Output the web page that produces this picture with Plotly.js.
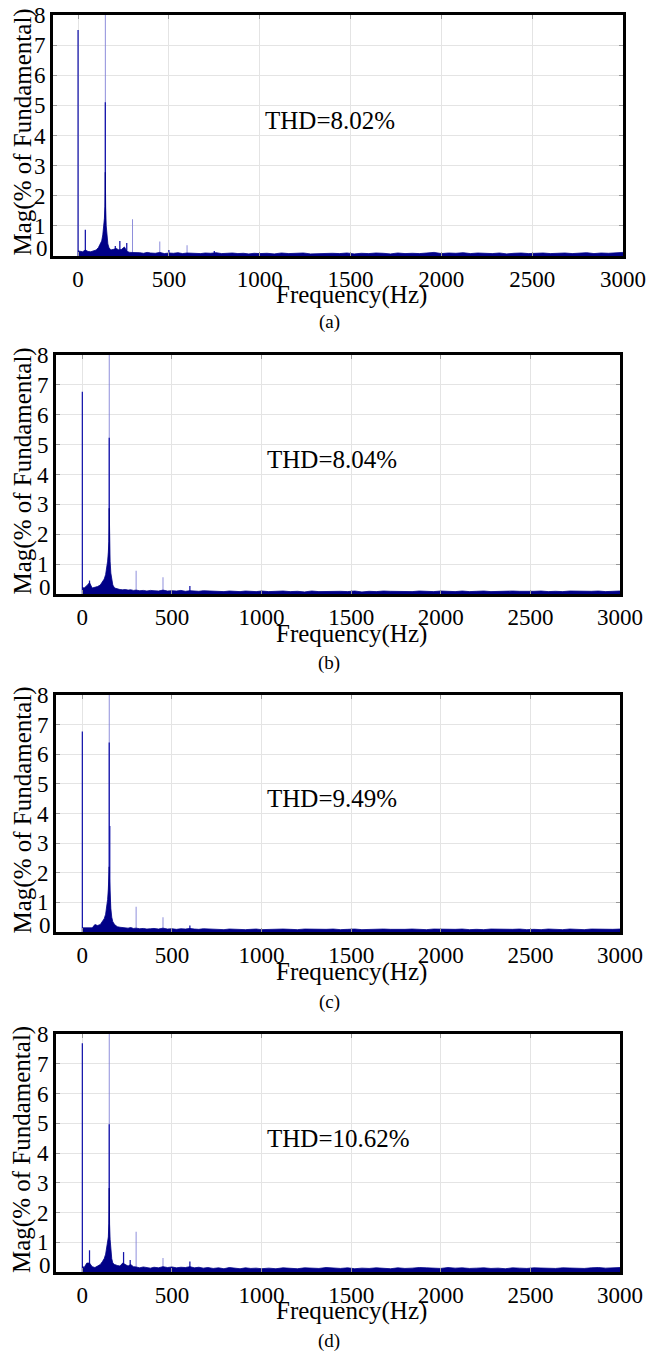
<!DOCTYPE html>
<html>
<head>
<meta charset="utf-8">
<script src="https://cdn.plot.ly/plotly-3.0.1.min.js"></script>
<style>
html,body{margin:0;padding:0;background:#fff;}
#chart{width:650px;height:1355px;}
</style>
</head>
<body>
<div id="chart"></div>
<script>
// ---------------- DATA ----------------
const panelLabels = ["(a)", "(b)", "(c)", "(d)"];
const thdTexts = ["THD=8.02%", "THD=8.04%", "THD=9.49%", "THD=10.62%"];
const xTickVals = [0, 500, 1000, 1500, 2000, 2500, 3000];
const yTickVals = [0, 1, 2, 3, 4, 5, 6, 7, 8];

const floorHz = [
  0,10,25,40,55,70,85,100,
  112,122,130,136,141,145,148,150,152,155,159,164,170,
  180,195,210,225,240,255,270,285,300,
  320,340,360,380,400,425,450,475,500,525,550,575,600,625,650,675,700,
  730,760,790,820,850,880,910,940,970,1000,
  1040,1080,1120,1160,1200,1240,1280,1320,1360,1400,
  1440,1480,1520,1560,1600,1640,1680,1720,1760,1800,
  1840,1880,1920,1960,2000,2040,2080,2120,2160,2200,
  2240,2280,2320,2360,2400,2440,2480,2520,2560,2600,
  2640,2680,2720,2760,2800,2840,2880,2920,2960,3000
];

const floorA = [
  0.17,0.15,0.14,0.2,0.15,0.14,0.16,0.2,
  0.28,0.38,0.5,0.7,0.95,1.25,1.65,2.78,1.6,1.0,0.6,0.4,0.28,
  0.2,0.22,0.25,0.2,0.22,0.3,0.15,0.12,0.12,
  0.1,0.11,0.09,0.12,0.1,0.09,0.12,0.08,0.1,0.09,0.11,0.08,0.1,0.09,0.1,0.08,0.1,
  0.09,0.11,0.08,0.09,0.1,0.08,0.09,0.07,0.09,0.08,
  0.09,0.07,0.1,0.08,0.09,0.1,0.07,0.08,0.1,0.09,
  0.08,0.1,0.07,0.09,0.08,0.1,0.09,0.07,0.1,0.08,
  0.09,0.08,0.1,0.12,0.08,0.1,0.09,0.11,0.08,0.1,
  0.09,0.08,0.1,0.07,0.09,0.1,0.08,0.09,0.1,0.08,
  0.09,0.1,0.08,0.09,0.11,0.08,0.1,0.09,0.11,0.12
];
const floorB = [
  0.22,0.2,0.28,0.38,0.2,0.22,0.25,0.3,
  0.4,0.5,0.65,0.85,1.1,1.4,1.75,2.87,1.7,1.1,0.7,0.45,0.3,
  0.2,0.17,0.15,0.14,0.15,0.13,0.14,0.12,0.13,
  0.11,0.12,0.1,0.12,0.11,0.1,0.13,0.1,0.11,0.1,0.12,0.09,0.11,0.1,0.09,0.11,0.1,
  0.09,0.1,0.08,0.1,0.09,0.08,0.1,0.09,0.08,0.1,
  0.08,0.09,0.1,0.08,0.09,0.07,0.1,0.08,0.09,0.08,
  0.09,0.08,0.1,0.07,0.09,0.08,0.1,0.09,0.08,0.09,
  0.08,0.1,0.09,0.08,0.1,0.09,0.08,0.1,0.08,0.09,
  0.1,0.08,0.09,0.08,0.1,0.09,0.08,0.09,0.1,0.08,
  0.09,0.08,0.1,0.09,0.08,0.09,0.1,0.08,0.09,0.1
];
const floorC = [
  0.14,0.14,0.12,0.13,0.14,0.25,0.22,0.25,
  0.35,0.45,0.6,0.85,1.1,1.45,1.76,2.2,1.7,1.2,0.8,0.5,0.35,
  0.25,0.18,0.16,0.15,0.14,0.13,0.15,0.12,0.13,
  0.11,0.12,0.1,0.11,0.12,0.1,0.13,0.1,0.11,0.09,0.11,0.1,0.12,0.1,0.09,0.11,0.1,
  0.09,0.1,0.08,0.1,0.09,0.1,0.08,0.09,0.1,0.08,
  0.09,0.08,0.1,0.09,0.08,0.1,0.09,0.08,0.09,0.1,
  0.08,0.09,0.1,0.08,0.09,0.08,0.1,0.09,0.08,0.09,
  0.1,0.09,0.08,0.1,0.09,0.08,0.09,0.1,0.08,0.09,
  0.08,0.1,0.09,0.08,0.09,0.1,0.08,0.09,0.08,0.1,
  0.09,0.08,0.1,0.09,0.08,0.1,0.09,0.08,0.09,0.1
];
const floorD = [
  0.2,0.15,0.3,0.3,0.18,0.15,0.2,0.25,
  0.35,0.45,0.6,0.8,1.0,1.18,1.64,2.82,1.6,1.1,0.7,0.45,0.3,
  0.25,0.22,0.2,0.3,0.25,0.2,0.25,0.18,0.17,
  0.14,0.17,0.15,0.13,0.16,0.14,0.18,0.15,0.17,0.14,0.16,0.15,0.18,0.14,0.16,0.13,0.15,
  0.12,0.14,0.11,0.15,0.13,0.11,0.14,0.12,0.13,0.11,
  0.13,0.11,0.14,0.12,0.11,0.14,0.13,0.12,0.15,0.13,
  0.12,0.14,0.11,0.13,0.12,0.14,0.13,0.11,0.14,0.12,
  0.13,0.15,0.14,0.13,0.12,0.15,0.13,0.14,0.12,0.13,
  0.14,0.12,0.13,0.11,0.14,0.13,0.12,0.14,0.13,0.14,
  0.12,0.14,0.13,0.14,0.12,0.14,0.15,0.13,0.14,0.15
];

const darkHzA = [0, 40, 150, 205, 230, 268, 500, 750];
const darkMagA = [7.5, 0.87, 5.1, 0.33, 0.5, 0.43, 0.2, 0.17];
const darkHzB = [0, 40, 150, 600];
const darkMagB = [6.77, 0.45, 5.23, 0.27];
const darkHzC = [0, 150, 153, 600];
const darkMagC = [6.77, 6.4, 3.58, 0.22];
const darkHzD = [0, 40, 150, 230, 267, 600];
const darkMagD = [7.69, 0.73, 4.97, 0.67, 0.4, 0.35];

const lightHzA = [150, 300, 450, 600];
const lightMagA = [100, 1.22, 0.48, 0.36];
const lightHzB = [150, 300, 450];
const lightMagB = [100, 0.78, 0.56];
const lightHzC = [150, 300, 450];
const lightMagC = [100, 0.85, 0.5];
const lightHzD = [150, 300, 450];
const lightMagD = [100, 1.35, 0.47];

// ---------------- LAYOUT ----------------
const W = 650, H = 1355;
const FONT = "Liberation Serif";
const navy = "rgb(0,0,135)";

const floors = [floorA, floorB, floorC, floorD];
const darkHz = [darkHzA, darkHzB, darkHzC, darkHzD];
const darkMag = [darkMagA, darkMagB, darkMagC, darkMagD];
const lightHz = [lightHzA, lightHzB, lightHzC, lightHzD];
const lightMag = [lightMagA, lightMagB, lightMagC, lightMagD];

const boxes = [
  [53, 623, 15, 256],
  [56, 620, 355, 594],
  [56, 620, 695, 932],
  [56, 620, 1034, 1272]
];
const xMins = [-138, -147, -147, -147];
const xTitleY = [295, 634, 972, 1311];
const capY = [322, 663, 1002, 1341];

const traces = [];
const layout = {
  width: W, height: H,
  margin: {l: 0, r: 0, t: 0, b: 0},
  paper_bgcolor: "#fff", plot_bgcolor: "#fff",
  showlegend: false,
  barmode: "overlay",
  font: {family: FONT, color: "#000", size: 23},
  annotations: []
};

for (let i = 0; i < 4; i++) {
  const n = i === 0 ? "" : String(i + 1);
  const xa = "x" + n, ya = "y" + n;
  const b = boxes[i];
  traces.push({
    type: "scatter", mode: "lines", x: floorHz, y: floors[i],
    xaxis: xa, yaxis: ya, fill: "tozeroy",
    fillcolor: navy, line: {color: navy, width: 0.8}, hoverinfo: "skip"
  });
  traces.push({
    type: "bar", x: lightHz[i], y: lightMag[i], width: 5,
    xaxis: xa, yaxis: ya,
    marker: {color: "rgb(130,130,215)", line: {width: 0}}, hoverinfo: "skip"
  });
  traces.push({
    type: "bar", x: darkHz[i], y: darkMag[i], width: 7,
    xaxis: xa, yaxis: ya,
    marker: {color: "rgb(20,20,170)", line: {width: 0}}, hoverinfo: "skip"
  });

  layout["xaxis" + n] = {
    domain: [b[0] / W, b[1] / W], anchor: ya,
    range: [xMins[i], 3000], tickvals: xTickVals,
    ticks: "inside", ticklen: 4, tickcolor: "#999",
    showgrid: true, gridcolor: "#e4e4e4", gridwidth: 1,
    showline: true, linecolor: "#000", linewidth: 3, mirror: "ticks",
    zeroline: false, tickfont: {family: FONT, size: 23, color: "#000"}
  };
  layout["yaxis" + n] = {
    domain: [1 - b[3] / H, 1 - b[2] / H], anchor: xa,
    range: [0, 8], tickvals: [1, 2, 3, 4, 5, 6, 7, 8],
    ticks: "inside", ticklen: 4, tickcolor: "#999",
    showgrid: true, gridcolor: "#e4e4e4", gridwidth: 1,
    showline: true, linecolor: "#000", linewidth: 3, mirror: "ticks",
    zeroline: false, tickfont: {family: FONT, size: 23, color: "#000"}
  };

  layout.annotations.push({
    text: String(yTickVals[0]), xref: xa + " domain", yref: ya,
    x: 0, y: 0, xanchor: "right", yanchor: "middle",
    xshift: -3, yshift: 7, showarrow: false,
    font: {family: FONT, size: 23, color: "#000"}
  });
  layout.annotations.push({
    text: thdTexts[i], xref: xa, yref: ya, x: 1020, y: 4.5,
    xanchor: "left", yanchor: "middle", showarrow: false,
    font: {family: FONT, size: 25, color: "#000"}
  });
  layout.annotations.push({
    text: "Mag(% of Fundamental)", xref: "paper", yref: "paper",
    x: 22 / W, y: 1 - ((b[2] + b[3]) / 2 - 3) / H,
    textangle: -90, xanchor: "center", yanchor: "middle", showarrow: false,
    font: {family: FONT, size: 25, color: "#000"}
  });
  layout.annotations.push({
    text: "Frequency(Hz)", xref: "paper", yref: "paper",
    x: 351 / W, y: 1 - xTitleY[i] / H,
    xanchor: "center", yanchor: "middle", showarrow: false,
    font: {family: FONT, size: 25, color: "#000"}
  });
  layout.annotations.push({
    text: panelLabels[i], xref: "paper", yref: "paper",
    x: 329 / W, y: 1 - capY[i] / H,
    xanchor: "center", yanchor: "middle", showarrow: false,
    font: {family: FONT, size: 19, color: "#000"}
  });
}

Plotly.newPlot("chart", traces, layout, {staticPlot: true, displayModeBar: false});
</script>
</body>
</html>
